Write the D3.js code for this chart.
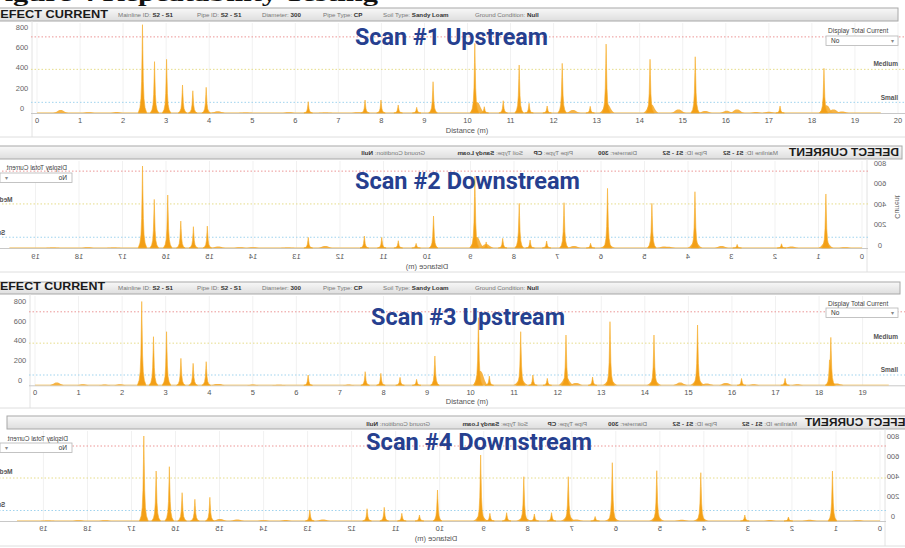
<!DOCTYPE html>
<html><head><meta charset="utf-8">
<script src="https://cdn.jsdelivr.net/npm/d3@7"></script>
<style>body{margin:0;background:#fff;} svg{display:block;font-family:"Liberation Sans",Arial,sans-serif;}</style>
</head><body><svg id="c" width="905" height="548"></svg>
<script>
// ---------------- DATA ----------------
const captionText = "Figure 4  Repeatability Testing";
const scanTitles = ["Scan #1 Upstream", "Scan #2 Downstream", "Scan #3 Upstream", "Scan #4 Downstream"];
const yTickValues = [0, 200, 400, 600, 800];
const xTicks0to20 = [0,1,2,3,4,5,6,7,8,9,10,11,12,13,14,15,16,17,18,19,20];
const xTicks0to19 = [0,1,2,3,4,5,6,7,8,9,10,11,12,13,14,15,16,17,18,19];
const metaLabels = ["Mainline ID:", "Pipe ID:", "Diameter:", "Pipe Type:", "Soil Type:", "Ground Condition:"];
const metaUpstream = ["S2 - S1", "S2 - S1", "300", "CP", "Sandy Loam", "Null"];
const metaDownstream = ["S1 - S2", "S1 - S2", "300", "CP", "Sandy Loam", "Null"];
const thresholdValues = [750, 430, 105];      // red, medium, small
const sizeLabels = ["Medium", "Small"];

// [distance (m), defect current]
const scan1Spikes = [[2.45,870],[2.73,506],[3.01,529],[3.38,276],[3.62,219],[3.93,253],[6.30,111],[7.62,128],[7.99,128],[8.39,79],[8.82,56],[9.20,308],[10.17,686],[10.39,62],[10.83,121],[11.20,473],[11.43,96],[11.85,69],[12.20,489],[12.85,66],[13.22,679],[14.24,529],[15.29,554],[17.26,69],[18.28,440]];
const scan1Bumps = [[0.55,30],[1.2,8],[1.85,10],[4.2,18],[4.85,6],[5.85,8],[6.7,6],[7.45,8],[10.22,110],[12.45,30],[13.24,90],[14.26,90],[14.9,35],[15.52,20],[16.02,22],[16.26,35],[16.7,10],[17.0,12],[18.33,80],[18.5,35],[18.7,15]];

const scan2Spikes = [[16.54,800],[16.27,474],[15.96,517],[15.66,263],[15.37,208],[15.05,214],[12.73,104],[11.44,117],[11.04,104],[10.66,71],[10.25,45],[9.85,312],[8.90,700],[8.64,59],[8.26,94],[7.88,436],[7.63,78],[7.25,68],[6.85,442],[6.24,46],[5.85,582],[4.83,436],[3.84,549],[2.87,35],[1.85,41],[0.83,527]];
const scan2Bumps = [[18.6,6],[17.8,8],[17.2,6],[14.8,15],[14.3,8],[14.0,8],[13.2,6],[12.34,20],[8.86,110],[8.64,40],[6.62,20],[5.85,40],[4.55,15],[4.45,12],[3.84,60],[3.23,20],[1.62,15],[0.83,60],[0.39,8]];

const scan3Spikes = [[2.45,855],[2.72,496],[3.02,547],[3.35,275],[3.63,224],[3.93,241],[6.27,105],[7.58,139],[7.94,122],[8.38,81],[8.76,61],[9.18,299],[10.18,690],[10.43,94],[11.15,547],[11.43,105],[11.76,71],[12.19,513],[12.80,84],[13.20,649],[14.21,513],[15.21,615],[16.22,70],[17.22,71],[18.24,260],[18.27,489]];
const scan3Bumps = [[0.5,30],[1.1,10],[1.6,8],[1.95,10],[4.2,15],[5.0,8],[5.6,6],[7.2,8],[10.22,150],[11.15,60],[12.19,80],[12.42,25],[13.20,60],[14.21,50],[14.81,30],[15.21,60],[15.42,20],[15.86,25],[16.5,10],[17.5,10],[18.4,20]];

const scan4Spikes = [[16.72,850],[16.44,500],[16.14,543],[15.85,283],[15.56,217],[15.22,237],[12.95,110],[11.65,123],[11.26,137],[10.86,77],[10.46,60],[10.05,310],[9.07,660],[8.86,77],[8.48,83],[8.09,443],[7.85,70],[7.46,83],[7.08,443],[6.47,45],[6.08,583],[5.07,503],[4.07,483],[3.07,60],[2.08,40],[1.08,500]];
const scan4Bumps = [[18.9,6],[18.2,8],[17.6,8],[14.99,20],[14.6,15],[14.0,8],[13.5,10],[12.65,15],[9.07,60],[8.09,40],[7.08,50],[6.9,15],[6.08,40],[5.07,50],[4.5,12],[4.07,40],[2.5,10],[1.6,12],[0.5,8]];

// ---------------- LAYOUT (styles / positions) ----------------
const panels = [
  {mirror:false, hdrTop:8, hdrBot:21, hdrBase:17.5, hdrL:-5, hdrR:898, hdrX:-9, hdrLen:117,
   metaX:[118,197,262,323,383,475], x0:37, ppm:43.05, ticks:xTicks0to20, axisY:113, ppu:0.1015, labOff:4.7,
   ylabX:22, xlabY:122.5, distX:467, distY:132.5, dispX:828, dispY:32.5, boxX:826, boxY:36, labRight:898,
   medY:65.5, smY:99.5, frameBot:137, meta:metaUpstream, spikes:scan1Spikes, bumps:scan1Bumps,
   title:{x:355, base:45, w:193}},
  {mirror:true, hdrTop:146, hdrBot:159, hdrBase:155.5, hdrL:3, hdrR:930, hdrX:6, hdrLen:110,
   metaX:[127,198,268,332,382,480], x0:43, ppm:43.5, ticks:xTicks0to19, axisY:248, ppu:0.1025, labOff:3,
   ylabX:25, xlabY:259, distX:478, distY:268.5, dispX:838, dispY:169.5, boxX:833, boxY:173, labRight:917,
   medY:202, smY:235, frameBot:272, meta:metaDownstream, spikes:scan2Spikes, bumps:scan2Bumps, currLabel:true,
   title:{x:355, base:188.5, w:225}},
  {mirror:false, hdrTop:282, hdrBot:294, hdrBase:290, hdrL:-5, hdrR:900, hdrX:-9, hdrLen:114,
   metaX:[118,197,262,323,383,475], x0:35, ppm:43.56, ticks:xTicks0to19, axisY:385.3, ppu:0.098, labOff:5.3,
   ylabX:20, xlabY:394.5, distX:467, distY:404, dispX:828, dispY:305.5, boxX:826, boxY:308, labRight:898,
   medY:339, smY:371.5, frameBot:408, meta:metaUpstream, spikes:scan3Spikes, bumps:scan3Bumps,
   title:{x:371, base:325, w:194}},
  {mirror:true, hdrTop:416, hdrBot:429, hdrBase:426, hdrL:-5, hdrR:898, hdrX:-9, hdrLen:109,
   metaX:[108,188,258,318,377,475], x0:25, ppm:44.03, ticks:xTicks0to19, axisY:521, ppu:0.1, labOff:4.3,
   ylabX:12, xlabY:530.5, distX:469, distY:540.5, dispX:837, dispY:440.5, boxX:833, boxY:443, labRight:917,
   medY:474, smY:507, frameBot:546, meta:metaDownstream, spikes:scan4Spikes, bumps:scan4Bumps,
   title:{x:366, base:450, w:226}}
];

const svg = d3.select("#c");
const defs = svg.append("defs");
const gr = defs.append("linearGradient").attr("id","hdr").attr("x1",0).attr("y1",0).attr("x2",0).attr("y2",1);
gr.append("stop").attr("offset","0%").attr("stop-color","#f8f8f8");
gr.append("stop").attr("offset","100%").attr("stop-color","#dedede");
svg.append("rect").attr("width",905).attr("height",548).attr("fill","#fff");

// caption (mostly cut off at the top, as in the source page)
svg.append("text").attr("x",-14).attr("y",1).attr("font-family","Liberation Serif, serif")
  .attr("font-weight","bold").attr("font-size",22).attr("textLength",392).attr("lengthAdjust","spacingAndGlyphs")
  .attr("fill","#111").text(captionText);

const spikeShape = [[-1,0],[-0.6,0.06],[-0.36,0.16],[-0.2,0.36],[-0.08,0.72],[0,1],[0.08,0.72],[0.2,0.36],[0.36,0.16],[0.6,0.06],[1,0]];
const bumpShape = [[-1,0],[-0.6,0.3],[-0.3,0.9],[0,1],[0.3,0.9],[0.6,0.3],[1,0]];
const SPIKE_HW = 0.1, BUMP_HW = 0.17;

function drawPanel(cfg, idx) {
  const outer = svg.append("g");
  const g = cfg.mirror ? outer.append("g").attr("transform","translate(905,0) scale(-1,1)") : outer.append("g");
  const x = d3.scaleLinear().domain([0,20]).range([cfg.x0, cfg.x0 + 20*cfg.ppm]);
  const y = d3.scaleLinear().domain([0,800]).range([cfg.axisY, cfg.axisY - 800*cfg.ppu]);
  const left = cfg.x0 - 6;

  // header bar
  g.append("rect").attr("x",cfg.hdrL).attr("y",cfg.hdrTop).attr("width",cfg.hdrR-cfg.hdrL).attr("height",cfg.hdrBot-cfg.hdrTop)
    .attr("fill","url(#hdr)").attr("stroke","#a8a8a8").attr("stroke-width",1);
  g.append("text").attr("x",cfg.hdrX).attr("y",cfg.hdrBase).attr("font-size",10).attr("font-weight","bold")
    .attr("fill","#1a1a1a").attr("textLength",cfg.hdrLen).attr("lengthAdjust","spacingAndGlyphs")
    .text("DEFECT CURRENT");
  metaLabels.forEach((lab,i) => {
    const t = g.append("text").attr("x",cfg.metaX[i]).attr("y",cfg.hdrBase-0.5).attr("font-size",6.2).attr("fill","#777");
    t.append("tspan").text(lab + " ");
    t.append("tspan").attr("font-weight","bold").attr("fill","#333").text(cfg.meta[i]);
  });

  // frame lines
  g.append("line").attr("x1",left+1).attr("x2",left+1).attr("y1",cfg.hdrBot).attr("y2",cfg.frameBot).attr("stroke","#e2e2e2");
  g.append("line").attr("x1",-5).attr("x2",910).attr("y1",cfg.frameBot).attr("y2",cfg.frameBot).attr("stroke","#dedede");

  // faint vertical grid
  g.selectAll(".vg").data(cfg.ticks).enter().append("line")
    .attr("x1",d=>x(d)).attr("x2",d=>x(d)).attr("y1",cfg.hdrBot+2).attr("y2",cfg.axisY)
    .attr("stroke","#f1f1f1").attr("stroke-width",1);

  // threshold dotted lines
  const thrColors = ["#ec9696","#e6dc8a","#9fd3ee"];
  thresholdValues.forEach((v,i) => {
    g.append("line").attr("x1",left).attr("x2",910).attr("y1",y(v)).attr("y2",y(v))
      .attr("stroke",thrColors[i]).attr("stroke-width",1).attr("stroke-dasharray","1.5,2");
  });

  // axis line
  g.append("line").attr("x1",left).attr("x2",910).attr("y1",cfg.axisY+0.5).attr("y2",cfg.axisY+0.5).attr("stroke","#c8c8c8");
  g.append("line").attr("x1",x(0)).attr("x2",x(19.6)).attr("y1",cfg.axisY-0.3).attr("y2",cfg.axisY-0.3).attr("stroke","#f3c46a").attr("stroke-width",0.8);

  // bumps
  const bumpLine = d3.line().curve(d3.curveBasis);
  g.selectAll(".bump").data(cfg.bumps).enter().append("path")
    .attr("d", d => bumpLine(bumpShape.map(p => [x(d[0] + p[0]*BUMP_HW), y(p[1]*d[1])])))
    .attr("fill","#f5ac32").attr("opacity",0.9);
  // spikes
  const spikeLine = d3.line();
  g.selectAll(".spike").data(cfg.spikes).enter().append("path")
    .attr("d", d => spikeLine(spikeShape.map(p => [x(d[0] + p[0]*SPIKE_HW), y(p[1]*d[1])])) + "Z")
    .attr("fill","#f39f16").attr("stroke","#f6ae2c").attr("stroke-width",0.6);

  // y labels
  g.selectAll(".yl").data(yTickValues).enter().append("text")
    .attr("x",cfg.ylabX).attr("y",d=>y(d)-cfg.labOff).attr("dy","0.35em").attr("text-anchor","middle")
    .attr("font-size",7.5).attr("fill","#666").text(d=>d);
  // x labels
  g.selectAll(".xl").data(cfg.ticks).enter().append("text")
    .attr("x",d=>x(d)).attr("y",cfg.xlabY).attr("text-anchor","middle")
    .attr("font-size",7.5).attr("fill","#555").text(d=>d);
  g.append("text").attr("x",cfg.distX).attr("y",cfg.distY).attr("text-anchor","middle")
    .attr("font-size",7.5).attr("fill","#555").text("Distance (m)");

  if (cfg.currLabel) {
    g.append("text").attr("transform",`translate(10,${y(400)}) rotate(-90)`).attr("text-anchor","middle")
      .attr("font-size",7).attr("fill","#666").text("Current");
  }

  // display total current control
  g.append("text").attr("x",cfg.dispX).attr("y",cfg.dispY).attr("font-size",6.5).attr("fill","#444").text("Display Total Current");
  g.append("rect").attr("x",cfg.boxX).attr("y",cfg.boxY).attr("width",72).attr("height",9.5)
    .attr("fill","#fff").attr("stroke","#b5b5b5").attr("stroke-width",0.8);
  g.append("text").attr("x",cfg.boxX+5).attr("y",cfg.boxY+7).attr("font-size",6.5).attr("fill","#333").text("No");
  g.append("text").attr("x",cfg.boxX+66).attr("y",cfg.boxY+7).attr("font-size",6).attr("fill","#888").attr("text-anchor","middle").text("▾");
  g.append("text").attr("x",cfg.labRight).attr("y",cfg.medY).attr("text-anchor","end").attr("font-size",6.5).attr("font-weight","bold").attr("fill","#555").text(sizeLabels[0]);
  g.append("text").attr("x",cfg.labRight).attr("y",cfg.smY).attr("text-anchor","end").attr("font-size",6.5).attr("font-weight","bold").attr("fill","#555").text(sizeLabels[1]);
}

panels.forEach(drawPanel);

// overlay titles
panels.forEach((cfg,i) => {
  svg.append("text").attr("x",cfg.title.x).attr("y",cfg.title.base)
    .attr("font-family","Roboto, 'Open Sans', sans-serif").attr("font-weight",700).attr("font-size",23)
    .attr("textLength",cfg.title.w).attr("lengthAdjust","spacingAndGlyphs")
    .attr("fill","#263f8f").text(scanTitles[i]);
});
</script></body></html>
